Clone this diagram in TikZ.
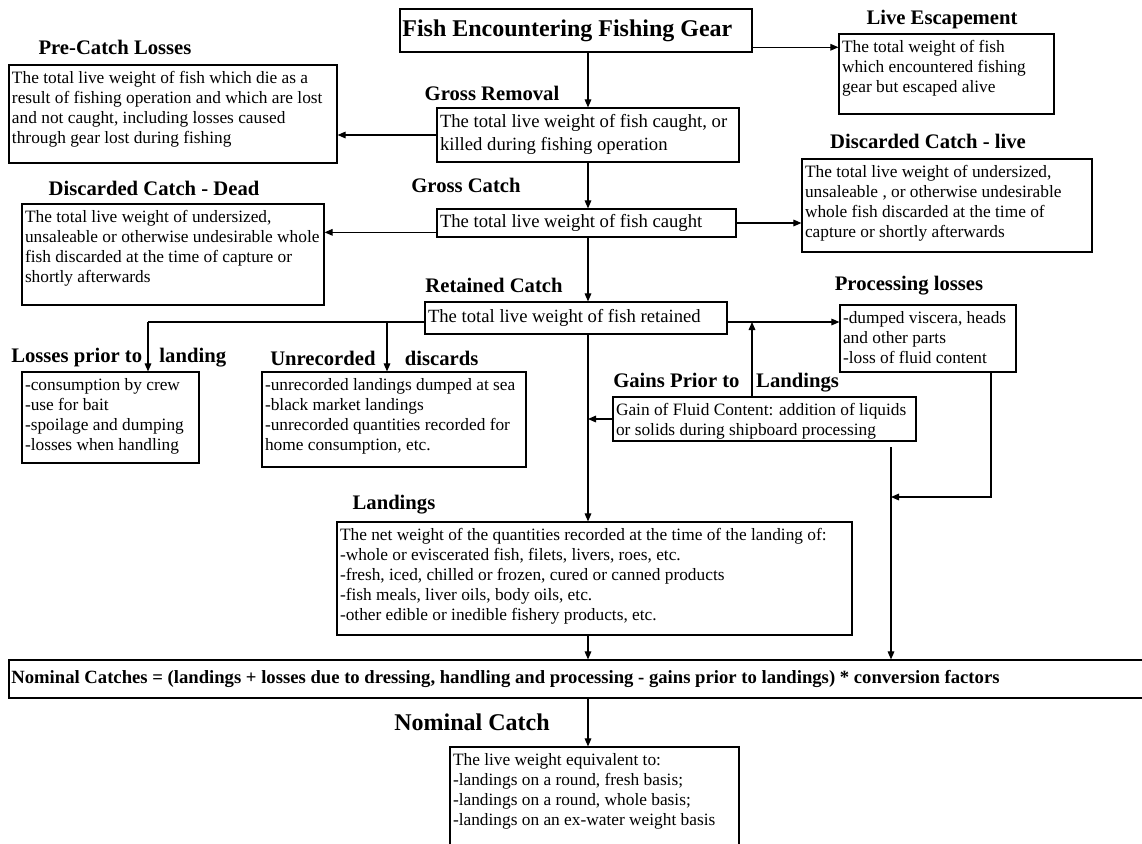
\documentclass[tikz,border=0pt]{standalone}
\usepackage{fontspec}
\setmainfont{Liberation Serif}
\usetikzlibrary{fit,arrows.meta}

\begin{document}
\begin{tikzpicture}[x=0.75pt, y=-0.75pt, >={Triangle[length=6pt,width=5pt]},
  box/.style={draw, line width=0.9pt, inner sep=0pt},
  txt/.style={anchor=north west, align=left, inner xsep=2.5pt, inner ysep=5pt, font=\fontsize{13}{15}\selectfont},
  bigtxt/.style={txt, font=\fontsize{14}{17}\selectfont},
  head/.style={inner sep=0pt, font=\bfseries\fontsize{15.5}{18}\selectfont},
  link/.style={line width=0.8pt}]
  \useasboundingbox (0,0) rectangle (1142,843);

  % boxes
  \node[box, fit={(400,9) (752,52)}] (title) {};
  \node[box, fit={(839,34) (1054,114)}] (live) {};
  \node[box, fit={(9,65) (337,163)}] (preCat) {};
  \node[box, fit={(437,108) (739,162)}] (groRem) {};
  \node[box, fit={(802,159) (1092,252)}] (disLive) {};
  \node[box, fit={(22,204) (324,305)}] (disDead) {};
  \node[box, fit={(437,209) (736,237)}] (groCat) {};
  \node[box, fit={(425,302) (727,334)}] (retained) {};
  \node[box, fit={(840,305) (1016,372)}] (proc) {};
  \node[box, fit={(22,372) (199,463)}] (losses) {};
  \node[box, fit={(262,372) (526,467)}] (unrec) {};
  \node[box, fit={(613,397) (916,441)}] (gains) {};
  \node[box, fit={(337,522) (852,635)}] (landings) {};
  \node[box, fit={(9,660) (1160,698)}] (nomCalc) {};
  \node[box, fit={(450,747) (739,870)}] (nomBox) {};

  % headings
  \node[head] (liveHead) at (942,20) {Live Escapement};
  \node[head] (preHead) at (115,47) {Pre-Catch Losses};
  \node[head] (remHead) at (492,93) {Gross Removal};
  \node[head] (disLiveHead) at (928,141) {Discarded Catch - live};
  \node[head] (disDeadHead) at (154,188) {Discarded Catch - Dead};
  \node[head] (catHead) at (466,185) {Gross Catch};
  \node[head] (retHead) at (494,285) {Retained Catch};
  \node[head] (procHead) at (909,286) {Processing losses};
  \node[head, anchor=west] (lossHead) at (11,358) {Losses prior to\hspace{13pt}landing};
  \node[head, anchor=west] (unrecHead) at (270,358) {Unrecorded\hspace{22pt}discards};
  \node[head, anchor=west] (gainHead) at (613,383) {Gains Prior to\hspace{12.5pt}Landings};
  \node[head] (landHead) at (394,505) {Landings};
  \node[head, font=\bfseries\fontsize{18}{21}\selectfont] (nomHead) at (472,722) {Nominal Catch};

  % texts
  \node[anchor=west, inner sep=2pt, font=\bfseries\fontsize{18}{21}\selectfont] (titleTxt) at (title.west) {Fish Encountering Fishing Gear};
  \node[txt] (liveTxt) at (live.north west) {The total weight of fish\\which encountered fishing\\gear but escaped alive};
  \node[txt] (preTxt) at (preCat.north west) {The total live weight of fish which die as a\\result of fishing operation and which are lost\\and not caught, including losses caused\\through gear lost during fishing};
  \node[bigtxt] (remTxt) at (groRem.north west) {The total live weight of fish caught, or\\killed during fishing operation};
  \node[txt] (disLiveTxt) at (disLive.north west) {The total live weight of undersized,\\unsaleable , or otherwise undesirable\\whole fish discarded at the time of\\capture or shortly afterwards};
  \node[txt] (disDeadTxt) at (disDead.north west) {The total live weight of undersized,\\unsaleable or otherwise undesirable whole\\fish discarded at the time of capture or\\shortly afterwards};
  \node[bigtxt, anchor=west, inner ysep=2pt] (catTxt) at (groCat.west) {The total live weight of fish caught};
  \node[bigtxt, anchor=west, inner ysep=2pt] (retTxt) at (retained.west) {The total live weight of fish retained};
  \node[txt] (procTxt) at (proc.north west) {-dumped viscera, heads\\and other parts\\-loss of fluid content};
  \node[txt] (lossTxt) at (losses.north west) {-consumption by crew\\-use for bait\\-spoilage and dumping\\-losses when handling};
  \node[txt] (unrecTxt) at (unrec.north west) {-unrecorded landings dumped at sea\\-black market landings\\-unrecorded quantities recorded for\\home consumption, etc.};
  \node[txt] (gainTxt) at (gains.north west) {Gain of Fluid Content: addition of liquids\\or solids during shipboard processing};
  \node[txt] (landTxt) at (landings.north west) {The net weight of the quantities recorded at the time of the landing of:\\-whole or eviscerated fish, filets, livers, roes, etc.\\-fresh, iced, chilled or frozen, cured or canned products\\-fish meals, liver oils, body oils, etc.\\-other edible or inedible fishery products, etc.};
  \node[anchor=west, inner sep=2pt, font=\bfseries\fontsize{14}{16}\selectfont] (calcTxt) at (nomCalc.west) {Nominal Catches = (landings + losses due to dressing, handling and processing - gains prior to landings) * conversion factors};
  \node[txt] (nomTxt) at (nomBox.north west) {The live weight equivalent to:\\-landings on a round, fresh basis;\\-landings on a round, whole basis;\\-landings on an ex-water weight basis};

  % helper points
  \coordinate (spine) at (588,0);
  \coordinate (lossX) at (148,0);
  \coordinate (unrecX) at (387,0);
  \coordinate (gainX) at (752,0);
  \coordinate (procX) at (991,0);
  \coordinate (sumX) at (891,0);
  \coordinate (turnY) at (0,497);
  \coordinate (sumTop) at (891,447);
  \coordinate (tEsc) at ([yshift=4pt]title.south east);
  \coordinate (gcLeft) at ([yshift=-7pt]groCat.west);
  \coordinate (rcLeft) at ([yshift=-3pt]retained.west);
  \coordinate (rcRight) at ([yshift=-3pt]retained.east);

  % connectors
  \draw[link,->] (tEsc) -- (tEsc -| live.west);
  \draw[link,->] (spine |- title.south) -- (spine |- groRem.north);
  \draw[link,->] (groRem.west) -- (groRem.west -| preCat.east);
  \draw[link,->] (spine |- groRem.south) -- (spine |- groCat.north);
  \draw[link,->] (gcLeft) -- (gcLeft -| disDead.east);
  \draw[link,->] (groCat.east) -- (groCat.east -| disLive.west);
  \draw[link,->] (spine |- groCat.south) -- (spine |- retained.north);
  \draw[link] (rcLeft) -- (rcLeft -| lossX);
  \draw[link,->] (rcLeft -| lossX) -- (lossX |- losses.north);
  \draw[link,->] (rcLeft -| unrecX) -- (unrecX |- unrec.north);
  \draw[link,->] (rcRight) -- (rcRight -| proc.west);
  \draw[link,->] (gainX |- gains.north) -- (gainX |- rcRight);
  \draw[link,->] (gains.west) -- (gains.west -| spine);
  \draw[link,->] (spine |- retained.south) -- (spine |- landings.north);
  \draw[link,->] (procX |- proc.south) -- (procX |- turnY) -- (sumX |- turnY);
  \draw[link,->] (sumTop) -- (sumX |- nomCalc.north);
  \draw[link,->] (spine |- landings.south) -- (spine |- nomCalc.north);
  \draw[link,->] (spine |- nomCalc.south) -- (spine |- nomBox.north);
\end{tikzpicture}
\end{document}
